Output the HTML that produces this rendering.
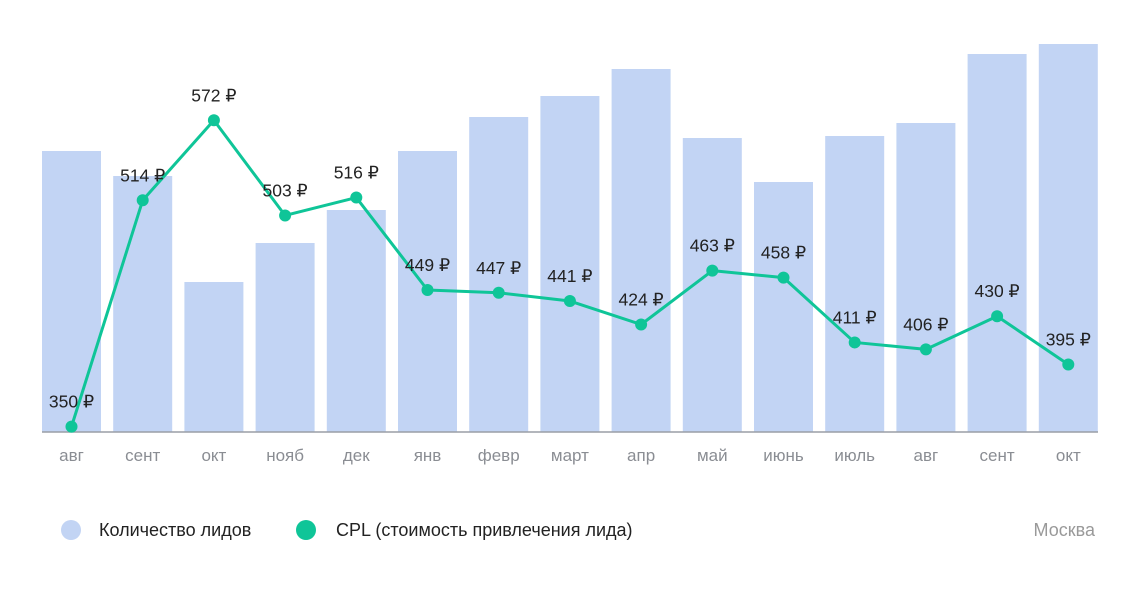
<!DOCTYPE html>
<html><head><meta charset="utf-8"><style>
body{margin:0;background:#fff;width:1140px;height:588px;overflow:hidden;font-family:"Liberation Sans",sans-serif}
</style></head><body>
<svg id="chart" width="1140" height="588" xmlns="http://www.w3.org/2000/svg">
<g id="bars"></g><line x1="42" y1="432" x2="1098" y2="432" stroke="#9a9ea6" stroke-width="1.5"/>
<g id="xlabels"></g><g id="line"></g><g id="dots"></g><g id="vlabels"></g>
<g>
<circle cx="71" cy="530" r="10" fill="#c2d4f4"/>
<text x="99" y="536" font-size="18" fill="#222">Количество лидов</text>
<circle cx="306" cy="530" r="10" fill="#0fc598"/>
<text x="336" y="536" font-size="18" fill="#222">CPL (стоимость привлечения лида)</text>
</g>
<text x="1095" y="536" text-anchor="end" font-size="18" fill="#999">Москва</text>
</svg>
<script>
const categories=["авг","сент","окт","нояб","дек","янв","февр","март","апр","май","июнь","июль","авг","сент","окт"];
const leads=[281,256,150,189,222,281,315,336,363,294,250,296,309,378,388];
const cpl=[350,514,572,503,516,449,447,441,424,463,458,411,406,430,395];
const NS="http://www.w3.org/2000/svg";
const xC=i=>71.5+i*71.2;
const yBar=v=>432-v;
const yCpl=v=>290-(v-449)*1.38;
function mk(tag,attrs,parent){const e=document.createElementNS(NS,tag);for(const k in attrs)e.setAttribute(k,attrs[k]);document.getElementById(parent).appendChild(e);return e;}
let pts=[];
categories.forEach((c,i)=>{
  const b=mk("rect",{x:xC(i)-29.5,y:yBar(leads[i]),width:59,height:leads[i],fill:"#c2d4f4"},"bars");
  
  
  const t=mk("text",{x:xC(i),y:461,"text-anchor":"middle","font-size":17,fill:"#8a8d93"},"xlabels");
  t.textContent=c;
  
  
  const y=yCpl(cpl[i]);pts.push(xC(i)+","+y);
  const d=mk("circle",{cx:xC(i),cy:y,r:6,fill:"#0fc598"},"dots");
  
  
  const v=mk("text",{x:xC(i),y:y-19,"text-anchor":"middle","font-size":17.5,fill:"#222"},"vlabels");
  v.textContent=cpl[i]+" ₽";
  
  
});
const l=mk("polyline",{points:pts.join(" "),fill:"none",stroke:"#0fc598","stroke-width":3,"stroke-linejoin":"round"},"line");


</script>
</body></html>
